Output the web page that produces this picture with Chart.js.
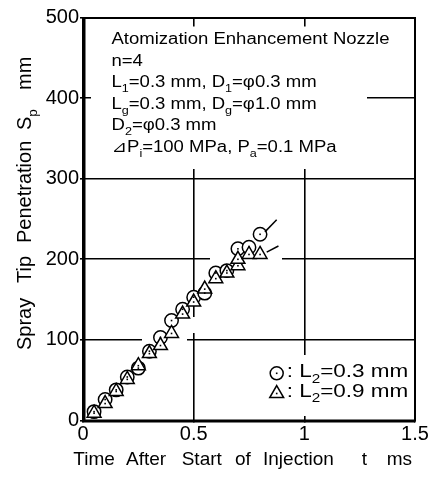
<!DOCTYPE html>
<html>
<head>
<meta charset="utf-8">
<script src="https://cdn.jsdelivr.net/npm/chart.js@4.4.0/dist/chart.umd.min.js"></script>
<style>
  html, body { margin: 0; padding: 0; background: #fff; }
  canvas { display: block; }
</style>
</head>
<body>
<canvas id="chart" width="441" height="477"></canvas>
<script>
// axis ranges / ticks
const xTicks = [0, 0.5, 1, 1.5];
const yTicks = [0, 100, 200, 300, 400, 500];

// L2 = 0.3 mm (circles)
const timeL03 = [0.05, 0.10, 0.15, 0.20, 0.25, 0.30, 0.35, 0.40, 0.45, 0.50, 0.55, 0.60, 0.65, 0.70, 0.75, 0.80];
const penL03  = [11, 26, 38, 54, 65, 86, 103, 124, 138, 153, 158, 183, 186, 213, 215, 231];

// L2 = 0.9 mm (triangles)
const timeL09 = [0.05, 0.10, 0.15, 0.20, 0.25, 0.30, 0.35, 0.40, 0.45, 0.50, 0.55, 0.60, 0.65, 0.70, 0.70, 0.75, 0.80];
const penL09  = [9, 21, 36, 51, 68, 83, 93, 108, 132, 147, 163, 176, 183, 192, 200, 206, 206];

// short lines continuing each series
const trendTimeL03 = [0.822, 0.875];
const trendPenL03  = [234, 249];
const trendTimeL09 = [0.83, 0.883];
const trendPenL09  = [209, 216.5];

const noteLines = [
  'Atomization Enhancement Nozzle',
  'n=4',
  'L_{1}=0.3 mm, D_{1}=\u03c60.3 mm',
  'L_{g}=0.3 mm, D_{g}=\u03c61.0 mm',
  'D_{2}=\u03c60.3 mm',
  '\u22bfP_{i}=100 MPa, P_{a}=0.1 MPa'
];
const legendLabels = [': L_{2}=0.3 mm', ': L_{2}=0.9 mm'];

const FONT = '"Liberation Sans", Arial, "DejaVu Sans", sans-serif';

function pts(xs, ys) { return xs.map((x, i) => ({ x: x, y: ys[i] })); }

function richParts(str) {
  return str.split(/(_\{[^}]*\})/).filter(Boolean).map(p =>
    p.startsWith('_{') ? { t: p.slice(2, -1), sub: true } : { t: p, sub: false });
}
function richWidth(ctx, str, size) {
  let w = 0;
  for (const p of richParts(str)) {
    ctx.font = (p.sub ? size * 0.68 : size) + 'px ' + FONT;
    w += ctx.measureText(p.t).width;
  }
  return w;
}
function drawRich(ctx, str, x, y, size, sx) {
  ctx.save();
  ctx.translate(x, y);
  ctx.scale(sx, 1);
  let cx = 0;
  for (const p of richParts(str)) {
    ctx.font = (p.sub ? size * 0.68 : size) + 'px ' + FONT;
    ctx.fillText(p.t, cx, p.sub ? size * 0.3 : 0);
    cx += ctx.measureText(p.t).width;
  }
  ctx.restore();
}

function drawMarker(ctx, style, x, y, r) {
  ctx.beginPath();
  if (style === 'circle') {
    ctx.arc(x, y, r, 0, Math.PI * 2);
  } else {
    ctx.moveTo(x, y - r);
    ctx.lineTo(x + r * 0.866, y + r / 2);
    ctx.lineTo(x - r * 0.866, y + r / 2);
    ctx.closePath();
  }
  ctx.fillStyle = '#fff';
  ctx.fill();
  ctx.strokeStyle = '#000';
  ctx.lineWidth = 1.5;
  ctx.stroke();
  ctx.fillStyle = '#000';
  ctx.fillRect(x - 0.8, y - 0.8, 1.6, 1.6);
}

const figurePlugin = {
  id: 'figure',
  beforeDatasetsDraw(chart) {
    const ctx = chart.ctx;
    ctx.save();
    ctx.fillStyle = '#fff';
    // white boxes behind the note and the legend, and small gaps around the marks
    ctx.fillRect(91, 26.5, 276, 142.5);
    ctx.fillRect(265, 355, 148, 61);
    ctx.fillRect(210, 256, 72, 7);
    ctx.fillRect(142, 337, 45, 6);
    ctx.fillRect(190, 317, 8, 16);
    ctx.restore();
  },
  afterDatasetsDraw(chart) {
    const ctx = chart.ctx;
    const a = chart.chartArea;
    ctx.save();
    // centre dots of the markers
    ctx.fillStyle = '#000';
    [0, 1].forEach(i => {
      chart.getDatasetMeta(i).data.forEach(el => {
        ctx.fillRect(el.x - 0.8, el.y - 0.8, 1.6, 1.6);
      });
    });

    // frame
    ctx.strokeStyle = '#000';
    ctx.lineWidth = 3;
    ctx.beginPath();
    ctx.moveTo(a.left + 1, a.top);
    ctx.lineTo(a.left + 1, a.bottom + 0.5);
    ctx.lineTo(a.right, a.bottom + 0.5);
    ctx.stroke();
    ctx.lineWidth = 2;
    ctx.beginPath();
    ctx.moveTo(a.left, a.top + 0.5);
    ctx.lineTo(a.right, a.top + 0.5);
    ctx.lineTo(a.right, a.bottom + 1);
    ctx.stroke();

    ctx.fillStyle = '#000';
    ctx.textBaseline = 'alphabetic';
    ctx.textAlign = 'left';

    // note text
    const noteSize = 16;
    const noteSx = 278 / richWidth(ctx, noteLines[0], noteSize);
    noteLines.forEach((s, i) => drawRich(ctx, s, 111.5, 44 + i * 21.6, noteSize, noteSx));

    // legend
    const legSize = 17.5;
    const legSx = 121.5 / richWidth(ctx, legendLabels[0], legSize);
    drawMarker(ctx, 'circle', 276.7, 373.3, 6.5);
    drawMarker(ctx, 'triangle', 276.7, 393.5, 8);
    drawRich(ctx, legendLabels[0], 286.7, 377.3, legSize, legSx);
    drawRich(ctx, legendLabels[1], 286.7, 396.7, legSize, legSx);

    // x axis title
    ctx.font = '19px ' + FONT;
    [['Time', 73.3], ['After', 126], ['Start', 181.7], ['of', 235], ['Injection', 263], ['t', 361.7], ['ms', 386.7]]
      .forEach(w => ctx.fillText(w[0], w[1], 465));

    // y axis title
    ctx.save();
    ctx.translate(31, 350);
    ctx.rotate(-Math.PI / 2);
    ctx.font = '20px ' + FONT;
    [['Spray', 0], ['Tip', 67], ['Penetration', 107]].forEach(w => ctx.fillText(w[0], w[1], 0));
    drawRich(ctx, 'S_{p}', 220, 0, 20, 1);
    ctx.font = '20px ' + FONT;
    ctx.fillText('mm', 260, 0);
    ctx.restore();

    ctx.restore();
  }
};

const tickFont = { family: FONT, size: 20 };

new Chart(document.getElementById('chart'), {
  type: 'scatter',
  data: {
    datasets: [
      {
        label: 'L2=0.3 mm',
        data: pts(timeL03, penL03),
        pointStyle: 'circle',
        pointRadius: 6.7,
        pointBackgroundColor: '#fff',
        pointBorderColor: '#000',
        pointBorderWidth: 1.5,
        order: 2
      },
      {
        label: 'L2=0.9 mm',
        data: pts(timeL09, penL09),
        pointStyle: 'triangle',
        pointRadius: 8,
        pointBackgroundColor: '#fff',
        pointBorderColor: '#000',
        pointBorderWidth: 1.5,
        order: 1
      },
      {
        data: pts(trendTimeL03, trendPenL03),
        showLine: true,
        pointRadius: 0,
        borderColor: '#000',
        borderWidth: 1.5
      },
      {
        data: pts(trendTimeL09, trendPenL09),
        showLine: true,
        pointRadius: 0,
        borderColor: '#000',
        borderWidth: 1.5
      }
    ]
  },
  options: {
    responsive: false,
    animation: false,
    devicePixelRatio: 1,
    layout: { padding: { left: 33, right: 26, top: 17.5, bottom: 0 } },
    plugins: {
      legend: { display: false },
      tooltip: { enabled: false }
    },
    scales: {
      x: {
        type: 'linear',
        min: xTicks[0],
        max: xTicks[xTicks.length - 1],
        afterBuildTicks(scale) { scale.ticks = xTicks.map(v => ({ value: v })); },
        afterFit(scale) { scale.height = 56.5; },
        ticks: { color: '#000', font: tickFont, padding: 0, maxRotation: 0, callback: v => String(v) },
        grid: { color: '#000', lineWidth: 1.6, tickLength: 2 },
        border: { display: false }
      },
      y: {
        min: yTicks[0],
        max: yTicks[yTicks.length - 1],
        afterBuildTicks(scale) { scale.ticks = yTicks.map(v => ({ value: v })); },
        afterFit(scale) { scale.width = 50; },
        ticks: { color: '#000', font: tickFont, padding: 1 },
        grid: { color: '#000', lineWidth: 1.6, tickLength: 3 },
        border: { display: false }
      }
    }
  },
  plugins: [figurePlugin]
});
</script>
</body>
</html>
